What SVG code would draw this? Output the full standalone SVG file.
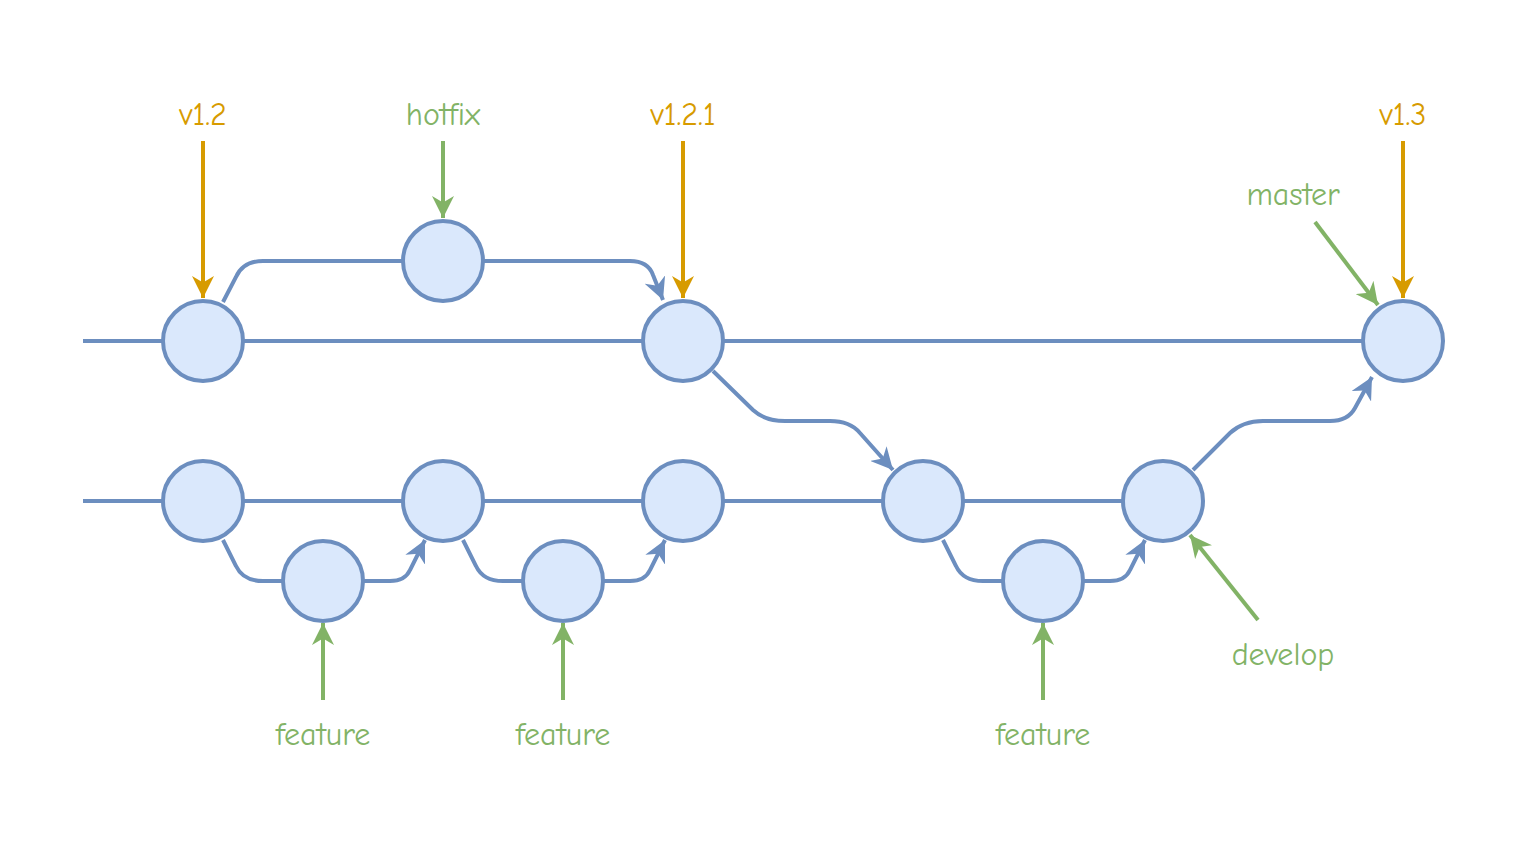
<svg xmlns="http://www.w3.org/2000/svg" width="1534" height="842" viewBox="0 0 1534 842">
<style>
.n{fill:#dae8fc;stroke:#6c8ebf;stroke-width:4}
.c{fill:none;stroke:#6c8ebf;stroke-width:4}
.o{fill:none;stroke:#d79b00;stroke-width:4}
.g{fill:none;stroke:#82b366;stroke-width:4}
text{font-family:"Comic Neue","Liberation Sans",sans-serif;font-size:32px;text-anchor:middle}
.to{fill:#d79b00}.tg{fill:#82b366}
</style>
<defs>
<marker id="mb" viewBox="0 0 10 10" refX="9" refY="5" markerWidth="5" markerHeight="5" orient="auto" markerUnits="userSpaceOnUse" style="overflow:visible"><path d="M0,0 L10,5 L0,10 L3,5 Z" fill="#6c8ebf" transform="scale(2.2) translate(-5.5,-2.7)"/></marker>
<marker id="mo" viewBox="0 0 10 10" refX="10" refY="5" markerWidth="22" markerHeight="22" orient="auto" markerUnits="userSpaceOnUse"><path d="M0,0 L10,5 L0,10 L3,5 Z" fill="#d79b00"/></marker>
<marker id="mg" viewBox="0 0 10 10" refX="10" refY="5" markerWidth="22" markerHeight="22" orient="auto" markerUnits="userSpaceOnUse"><path d="M0,0 L10,5 L0,10 L3,5 Z" fill="#82b366"/></marker>
<marker id="mc" viewBox="0 0 10 10" refX="10" refY="5" markerWidth="22" markerHeight="22" orient="auto" markerUnits="userSpaceOnUse"><path d="M0,0 L10,5 L0,10 L3,5 Z" fill="#6c8ebf"/></marker>
</defs>
<g id="connectors">
<path class="c" d="M83,341H163M243,341H643M723,341H1363"/>
<path class="c" d="M83,501H163M243,501H403M483,501H643M723,501H883M963,501H1123"/>
<path class="c" d="M223,302L236,277Q243,261 263,261H403"/>
<path class="c" d="M483,261H630Q648,261 653,275L663,300" marker-end="url(#mc)"/>
<path class="c" d="M713,371L753,410Q765,421 785,421H830Q850,421 860,433L893,470" marker-end="url(#mc)"/>
<path class="c" d="M1193,470L1230,433Q1243,421 1263,421H1330Q1348,421 1355,408L1372,377" marker-end="url(#mc)"/>
<path class="c" d="M223,540L236,566Q243,581 263,581H283"/>
<path class="c" d="M363,581H390Q405,581 410,570L425,540" marker-end="url(#mc)"/>
<path class="c" d="M463,540L476,566Q483,581 503,581H523"/>
<path class="c" d="M603,581H630Q645,581 650,570L665,540" marker-end="url(#mc)"/>
<path class="c" d="M943,540L956,566Q963,581 983,581H1003"/>
<path class="c" d="M1083,581H1110Q1125,581 1130,570L1145,540" marker-end="url(#mc)"/>
<path class="o" d="M203,141V298" marker-end="url(#mo)"/>
<path class="o" d="M683,141V298" marker-end="url(#mo)"/>
<path class="o" d="M1403,141V298" marker-end="url(#mo)"/>
<path class="g" d="M443,141V218" marker-end="url(#mg)"/>
<path class="g" d="M1315,222L1378,305" marker-end="url(#mg)"/>
<path class="g" d="M1258,620L1190,535" marker-end="url(#mg)"/>
<path class="g" d="M323,700V623" marker-end="url(#mg)"/>
<path class="g" d="M563,700V623" marker-end="url(#mg)"/>
<path class="g" d="M1043,700V623" marker-end="url(#mg)"/>
</g>
<g id="n1"><circle class="n" cx="203" cy="341" r="40"/></g>
<g id="n2"><circle class="n" cx="443" cy="261" r="40"/></g>
<g id="n3"><circle class="n" cx="683" cy="341" r="40"/></g>
<g id="n4"><circle class="n" cx="1403" cy="341" r="40"/></g>
<g id="n5"><circle class="n" cx="203" cy="501" r="40"/></g>
<g id="n6"><circle class="n" cx="443" cy="501" r="40"/></g>
<g id="n7"><circle class="n" cx="683" cy="501" r="40"/></g>
<g id="n8"><circle class="n" cx="923" cy="501" r="40"/></g>
<g id="n9"><circle class="n" cx="1163" cy="501" r="40"/></g>
<g id="n10"><circle class="n" cx="323" cy="581" r="40"/></g>
<g id="n11"><circle class="n" cx="563" cy="581" r="40"/></g>
<g id="n12"><circle class="n" cx="1043" cy="581" r="40"/></g>
<g id="labels">
<text class="to" x="203" y="125">v1.2</text>
<text class="tg" x="443" y="125">hotfix</text>
<text class="to" x="683" y="125">v1.2.1</text>
<text class="to" x="1403" y="125">v1.3</text>
<text class="tg" x="1293" y="205">master</text>
<text class="tg" x="1283" y="665">develop</text>
<text class="tg" x="323" y="745">feature</text>
<text class="tg" x="563" y="745">feature</text>
<text class="tg" x="1043" y="745">feature</text>
</g>
</svg>
